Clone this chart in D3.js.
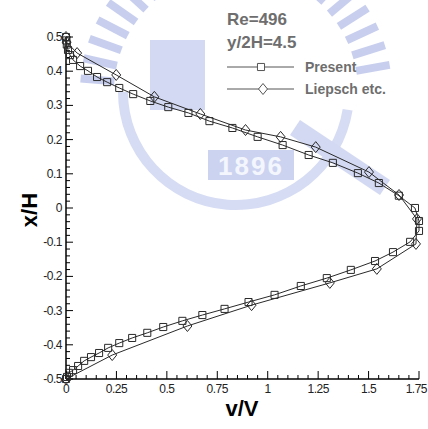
<!DOCTYPE html>
<html><head><meta charset="utf-8">
<script src="https://cdn.jsdelivr.net/npm/d3@7"></script>
<style>
html,body{margin:0;padding:0;background:#fff;}
svg{display:block;font-family:"Liberation Sans",Arial,sans-serif;}
</style></head>
<body>
<svg id="chart" width="428" height="429"></svg>
<script>
// ---- data ----
const presentV = [0.0,0.002,0.004,0.01,0.02,0.035,0.07,0.109,0.154,0.204,0.264,0.333,0.418,0.507,0.607,0.711,0.825,0.95,1.074,1.203,1.323,1.447,1.551,1.65,1.73,1.75,1.75,1.706,1.621,1.532,1.412,1.293,1.164,1.034,0.905,0.786,0.676,0.577,0.482,0.403,0.328,0.264,0.209,0.164,0.124,0.09,0.06,0.035,0.015,0.005,0.0];
const presentX = [0.5,0.49,0.478,0.462,0.447,0.433,0.415,0.401,0.383,0.368,0.351,0.333,0.313,0.295,0.278,0.254,0.234,0.208,0.184,0.155,0.132,0.102,0.073,0.036,0.0,-0.038,-0.067,-0.099,-0.129,-0.155,-0.181,-0.205,-0.228,-0.254,-0.275,-0.295,-0.313,-0.33,-0.348,-0.365,-0.38,-0.395,-0.409,-0.424,-0.436,-0.447,-0.462,-0.474,-0.482,-0.494,-0.5];
const liepschV = [0.0,0.003,0.055,0.249,0.438,0.666,0.89,1.064,1.238,1.502,1.651,1.74,1.735,1.541,1.308,0.92,0.602,0.229,0.0];
const liepschX = [0.5,0.485,0.453,0.389,0.325,0.275,0.228,0.208,0.178,0.105,0.038,-0.032,-0.105,-0.178,-0.219,-0.284,-0.345,-0.43,-0.5];
const xTicks = [0,0.25,0.5,0.75,1,1.25,1.5,1.75];
const xTickLabels = ["0","0.25","0.5","0.75","1","1.25","1.5","1.75"];
const yTicks = [0.5,0.4,0.3,0.2,0.1,0,-0.1,-0.2,-0.3,-0.4,-0.5];
const yTickLabels = ["0.5","0.4","0.3","0.2","0.1","0","-0.1","-0.2","-0.3","-0.4","-0.5"];
const seriesNames = ["Present","Liepsch etc."];
const annot = ["Re=496","y/2H=4.5"];

const svg = d3.select("#chart");
const x = d3.scaleLinear().domain([0,1.75]).range([66,419]);
const y = d3.scaleLinear().domain([-0.5,0.5]).range([379,37]);

// ---- watermark (faint logo) ----
const wm = svg.append("g").attr("fill","#c8cfee");
const cx = 236, cy = 92;
for (let a = 95; a <= 265; a += 7.5) {
  wm.append("rect").attr("x",-4).attr("y",-156).attr("width",8).attr("height",34)
    .attr("transform",`translate(${cx},${cy}) rotate(${a+180})`);
}
wm.append("path").attr("d",d3.arc()({innerRadius:108,outerRadius:118,startAngle:Math.PI*0.55,endAngle:Math.PI*1.5}))
  .attr("transform",`translate(${cx},${cy})`).attr("fill","#d6dcf3");
wm.append("rect").attr("x",208).attr("y",150).attr("width",86).attr("height",30).attr("fill","#ccd3f0");
wm.append("text").attr("x",251).attr("y",175).attr("text-anchor","middle").attr("font-size",26).attr("font-weight","bold")
  .attr("fill","#f4f6fd").attr("letter-spacing",2).text("1896");
wm.append("rect").attr("x",150).attr("y",40).attr("width",55).attr("height",70).attr("fill","#d3d9f2");
wm.append("path").attr("d","M300,120 L390,180 L380,195 L290,135 Z").attr("fill","#d3d9f2");

// ---- axes ----
const ax = svg.append("g").attr("stroke","#000").attr("fill","none");
ax.append("line").attr("x1",x(0)).attr("x2",x(0)).attr("y1",y(0.5)).attr("y2",y(-0.5)).attr("stroke-width",1.5);
ax.append("line").attr("x1",x(0)).attr("x2",x(1.75)).attr("y1",y(-0.5)).attr("y2",y(-0.5)).attr("stroke-width",1.5);
d3.range(-0.5,0.5001,0.02).forEach(v=>{
  const major = Math.abs(Math.round(v*10)-v*10)<1e-6;
  ax.append("line").attr("x1",x(0)).attr("x2",x(0)+(major?7:4)).attr("y1",y(v)).attr("y2",y(v)).attr("stroke-width",1);
});
d3.range(0,1.7501,0.05).forEach(v=>{
  const major = Math.abs(Math.round(v*4)-v*4)<1e-6;
  ax.append("line").attr("x1",x(v)).attr("x2",x(v)).attr("y1",y(-0.5)).attr("y2",y(-0.5)-(major?8:4)).attr("stroke-width",1);
});
const lab = svg.append("g").attr("font-size",12).attr("fill","#222");
yTicks.forEach((t,i)=>{
  lab.append("text").attr("x",x(0)-4).attr("y",y(t)+4).attr("text-anchor","end").attr("letter-spacing",-0.5).text(yTickLabels[i]);
});
xTicks.forEach((t,i)=>{
  const last = i===xTicks.length-1;
  lab.append("text").attr("x",last?427:x(t)).attr("y",y(-0.5)+14)
    .attr("text-anchor",last?"end":"middle").attr("letter-spacing",-0.5).text(xTickLabels[i]);
});
svg.append("text").attr("x",242).attr("y",416).attr("text-anchor","middle").attr("font-size",22).attr("font-weight","bold").attr("fill","#000").text("v/V");
svg.append("text").attr("transform","translate(37,210) rotate(-90)").attr("text-anchor","middle").attr("font-size",22).attr("font-weight","bold").attr("fill","#000").text("x/H");

// ---- series ----
const line = d3.line().x(d=>x(d[0])).y(d=>y(d[1]));
const pData = presentV.map((v,i)=>[v,presentX[i]]);
const lData = liepschV.map((v,i)=>[v,liepschX[i]]);
const col = "#2a2a2a";
svg.append("path").datum(lData).attr("d",line).attr("fill","none").attr("stroke",col).attr("stroke-width",1);
svg.append("path").datum(pData).attr("d",line).attr("fill","none").attr("stroke",col).attr("stroke-width",1);
const sq = d3.symbol().type(d3.symbolSquare).size(50);
svg.append("g").selectAll("path").data(pData).join("path")
  .attr("d",sq).attr("transform",d=>`translate(${x(d[0])},${y(d[1])})`)
  .attr("fill","none").attr("stroke",col).attr("stroke-width",1);
const diamond = "M0,-5.5L4.5,0L0,5.5L-4.5,0Z";
svg.append("g").selectAll("path").data(lData).join("path")
  .attr("d",diamond).attr("transform",d=>`translate(${x(d[0])},${y(d[1])})`)
  .attr("fill","none").attr("stroke",col).attr("stroke-width",1);

// ---- legend ----
const lg = svg.append("g");
const tcol = "#6e6e6e";
lg.append("text").attr("x",227).attr("y",25).attr("font-size",17).attr("font-weight","bold").attr("fill",tcol).text(annot[0]);
lg.append("text").attr("x",227).attr("y",48).attr("font-size",17).attr("font-weight","bold").attr("fill",tcol).text(annot[1]);
[67,89].forEach((yy,i)=>{
  lg.append("line").attr("x1",227).attr("x2",294).attr("y1",yy).attr("y2",yy).attr("stroke","#555").attr("stroke-width",1);
  if(i===0){
    lg.append("path").attr("d",sq).attr("transform",`translate(261,${yy})`).attr("fill","#fff").attr("stroke","#555");
  } else {
    lg.append("path").attr("d",diamond).attr("transform",`translate(263,${yy})`).attr("fill","#fff").attr("stroke","#555");
  }
  lg.append("text").attr("x",305).attr("y",yy+5).attr("font-size",14).attr("font-weight","bold").attr("fill",tcol).text(seriesNames[i]);
});
</script>
</body></html>
